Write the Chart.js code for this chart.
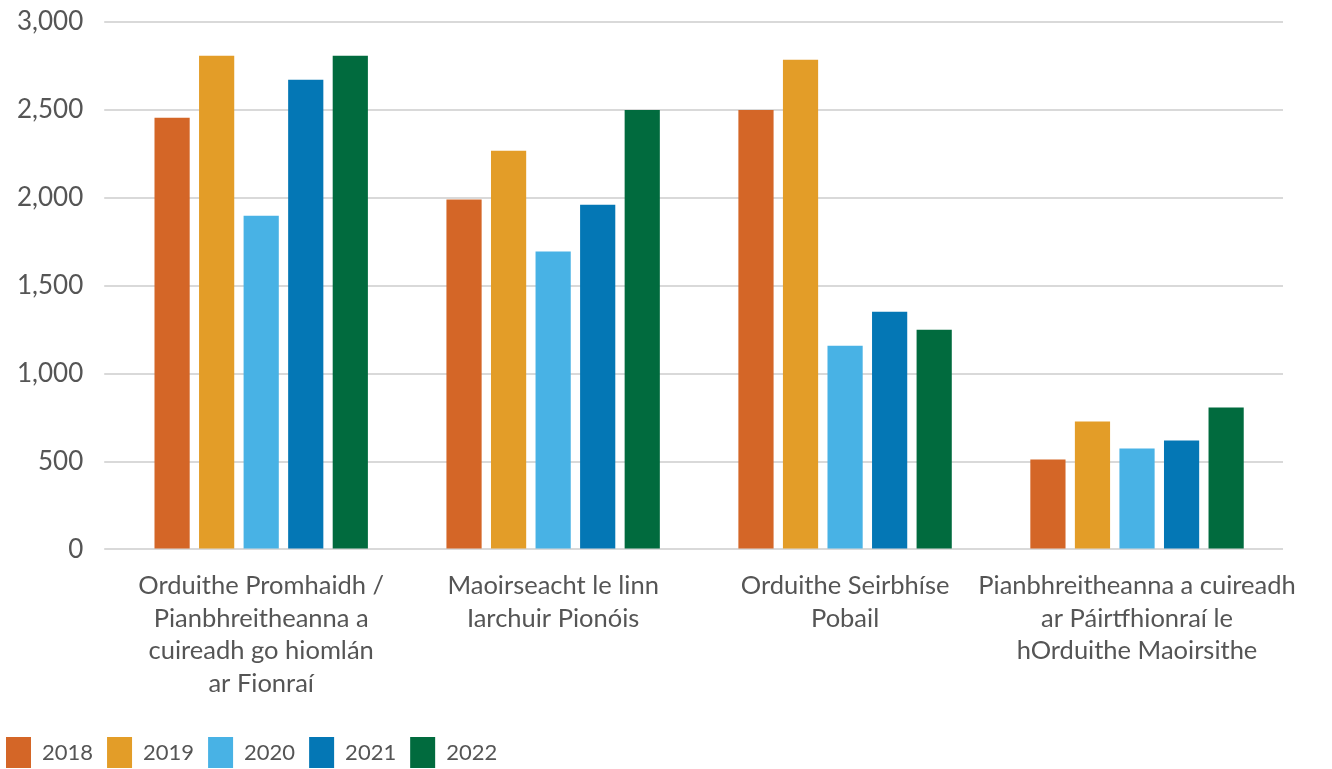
<!DOCTYPE html>
<html>
<head>
  <meta charset="UTF-8">
  <script src="https://cdn.jsdelivr.net/npm/chart.js"></script>
  <style>
    html, body { margin: 0; padding: 0; background: #fff; }
    #wrap { width: 1332px; height: 769px; }
  </style>
</head>
<body>
  <div id="wrap"><canvas id="graf"></canvas></div>
  <script>
    const categories = [
      ['Orduithe Promhaidh /', 'Pianbhreitheanna a', 'cuireadh go hiomlán', 'ar Fionraí'],
      ['Maoirseacht le linn', 'Iarchuir Pionóis'],
      ['Orduithe Seirbhíse', 'Pobail'],
      ['Pianbhreitheanna a cuireadh', 'ar Páirtfhionraí le', 'hOrduithe Maoirsithe']
    ];
    const years = ['2018', '2019', '2020', '2021', '2022'];
    const v2018 = [2455, 1990, 2500, 512];
    const v2019 = [2808, 2268, 2785, 727];
    const v2020 = [1898, 1694, 1159, 574];
    const v2021 = [2671, 1960, 1352, 619];
    const v2022 = [2808, 2500, 1250, 808];
    const colours = ['#d46627', '#e39d28', '#48b2e5', '#0477b5', '#016b3e'];

    const series = [v2018, v2019, v2020, v2021, v2022];
    const textCol = '#555555';

    // nudge the legend to the left edge like the original
    const dx = -4, dy = 11;
    const legendShift = {
      id: 'legendShift',
      afterLayout(chart) {
        const lg = chart.legend;
        if (!lg) return;
        lg.left += dx; lg.right += dx;
        lg.top += dy; lg.bottom += dy;
        lg.legendHitBoxes.forEach(b => { b.left += dx; b.top += dy; });
      }
    };

    new Chart(document.getElementById('graf'), {
      type: 'bar',
      data: {
        labels: categories,
        datasets: years.map((y, i) => ({
          label: y,
          data: series[i],
          backgroundColor: colours[i],
          borderWidth: 0,
          barPercentage: 0.79,
          categoryPercentage: 0.763
        }))
      },
      options: {
        responsive: true,
        maintainAspectRatio: false,
        animation: false,
        layout: { padding: { left: -4, right: 49, top: 0, bottom: 2 } },
        plugins: {
          tooltip: { enabled: false },
          legend: {
            position: 'bottom',
            align: 'start',
            labels: {
              boxWidth: 25,
              boxHeight: 31,
              padding: 14,
              color: textCol,
              font: { family: 'Lato', size: 22 }
            }
          }
        },
        scales: {
          x: {
            grid: { display: false },
            border: { display: false },
            ticks: {
              color: textCol,
              maxRotation: 0,
              autoSkip: false,
              padding: 12,
              font: { family: 'Lato', size: 25.5, lineHeight: 1.28 }
            }
          },
          y: {
            min: 0,
            max: 3000,
            grid: { color: '#d9d9d9', lineWidth: 2, drawTicks: true, tickLength: 11 },
            border: { display: false },
            ticks: {
              stepSize: 500,
              color: textCol,
              padding: 21,
              font: { family: 'Lato', size: 26 },
              callback: v => v.toLocaleString('en-US')
            },
            afterFit: s => { s.paddingTop = 22; }
          }
        }
      },
      plugins: [legendShift]
    });
  </script>
</body>
</html>
